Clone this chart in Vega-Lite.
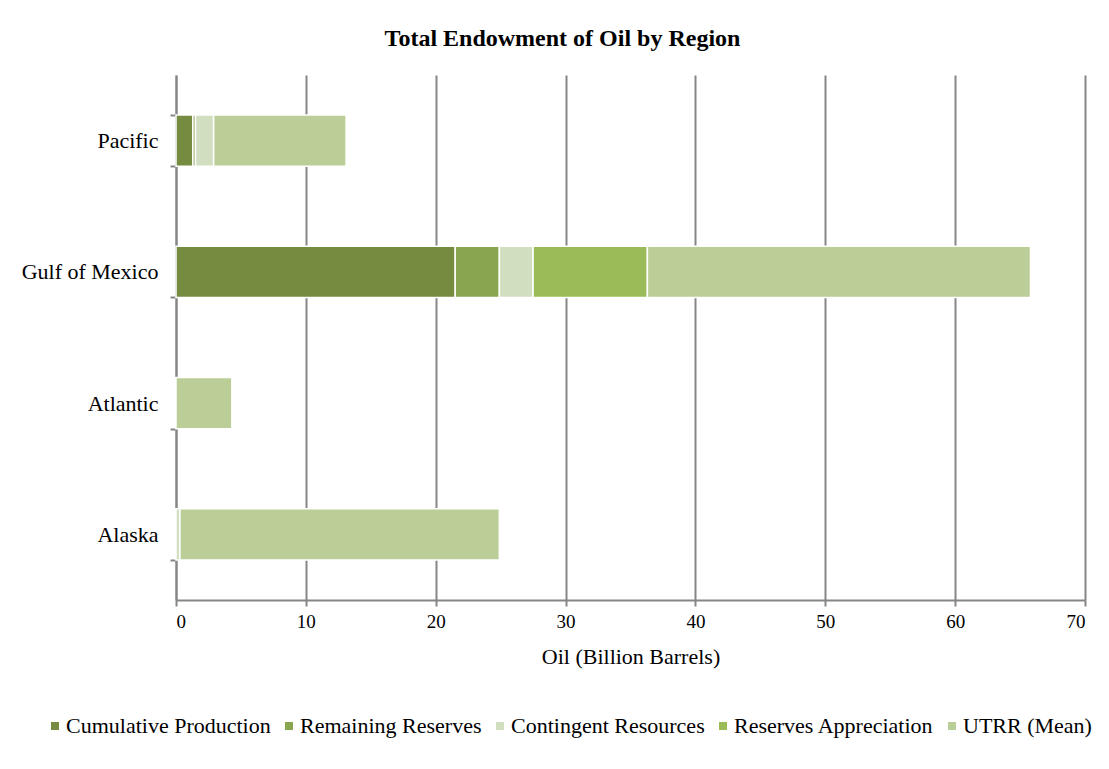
{
  "$schema": "https://vega.github.io/schema/vega-lite/v6.json",
  "autosize": {"type": "none"},
  "width": 909,
  "height": 525,
  "padding": {"left": 176, "top": 75, "right": 24, "bottom": 169},
  "background": "white",
  "title": {
    "text": "Total Endowment of Oil by Region",
    "font": "Liberation Serif",
    "fontSize": 24,
    "fontWeight": "bold",
    "color": "#000000",
    "anchor": "middle",
    "dx": -68,
    "offset": 13
  },
  "data": {
    "values": [
      {"region": "Pacific", "category": "Cumulative Production", "ord": 1, "value": 1.3},
      {"region": "Pacific", "category": "Remaining Reserves", "ord": 2, "value": 0.2},
      {"region": "Pacific", "category": "Contingent Resources", "ord": 3, "value": 1.4},
      {"region": "Pacific", "category": "Reserves Appreciation", "ord": 4, "value": 0.0},
      {"region": "Pacific", "category": "UTRR (Mean)", "ord": 5, "value": 10.2},
      {"region": "Gulf of Mexico", "category": "Cumulative Production", "ord": 1, "value": 21.5},
      {"region": "Gulf of Mexico", "category": "Remaining Reserves", "ord": 2, "value": 3.4},
      {"region": "Gulf of Mexico", "category": "Contingent Resources", "ord": 3, "value": 2.6},
      {"region": "Gulf of Mexico", "category": "Reserves Appreciation", "ord": 4, "value": 8.8},
      {"region": "Gulf of Mexico", "category": "UTRR (Mean)", "ord": 5, "value": 29.5},
      {"region": "Atlantic", "category": "Cumulative Production", "ord": 1, "value": 0.0},
      {"region": "Atlantic", "category": "Remaining Reserves", "ord": 2, "value": 0.0},
      {"region": "Atlantic", "category": "Contingent Resources", "ord": 3, "value": 0.0},
      {"region": "Atlantic", "category": "Reserves Appreciation", "ord": 4, "value": 0.0},
      {"region": "Atlantic", "category": "UTRR (Mean)", "ord": 5, "value": 4.3},
      {"region": "Alaska", "category": "Cumulative Production", "ord": 1, "value": 0.0},
      {"region": "Alaska", "category": "Remaining Reserves", "ord": 2, "value": 0.0},
      {"region": "Alaska", "category": "Contingent Resources", "ord": 3, "value": 0.3},
      {"region": "Alaska", "category": "Reserves Appreciation", "ord": 4, "value": 0.0},
      {"region": "Alaska", "category": "UTRR (Mean)", "ord": 5, "value": 24.6}
    ]
  },
  "mark": {"type": "bar", "stroke": "white", "strokeWidth": 1.5},
  "encoding": {
    "y": {
      "field": "region",
      "type": "nominal",
      "sort": ["Pacific", "Gulf of Mexico", "Atlantic", "Alaska"],
      "scale": {"paddingInner": 0.61, "paddingOuter": 0.305},
      "axis": {
        "title": null,
        "labelFont": "Liberation Serif",
        "labelFontSize": 22,
        "labelColor": "#000000",
        "labelPadding": 12,
        "tickBand": "extent",
        "tickSize": 6,
        "tickColor": "#868686",
        "tickWidth": 2,
        "domainColor": "#868686",
        "domainWidth": 2,
        "grid": false
      }
    },
    "x": {
      "field": "value",
      "type": "quantitative",
      "stack": "zero",
      "scale": {"domain": [0, 70], "nice": false},
      "axis": {
        "title": "Oil (Billion Barrels)",
        "titleFont": "Liberation Serif",
        "titleFontSize": 22,
        "titleFontWeight": "normal",
        "titleColor": "#000000",
        "titlePadding": 15,
        "values": [0, 10, 20, 30, 40, 50, 60, 70],
        "labelFont": "Liberation Serif",
        "labelFontSize": 19,
        "labelColor": "#000000",
        "labelPadding": 6,
        "tickSize": 6,
        "tickColor": "#868686",
        "tickWidth": 2,
        "domainColor": "#868686",
        "domainWidth": 2,
        "grid": true,
        "gridColor": "#868686",
        "gridWidth": 2
      }
    },
    "color": {
      "field": "category",
      "type": "nominal",
      "scale": {
        "domain": ["Cumulative Production", "Remaining Reserves", "Contingent Resources", "Reserves Appreciation", "UTRR (Mean)"],
        "range": ["#758C40", "#8AA550", "#D2DEC0", "#9BBB59", "#BBCE98"]
      },
      "legend": {
        "title": null,
        "orient": "none",
        "legendX": -132,
        "legendY": 640,
        "direction": "horizontal",
        "columns": 5,
        "columnPadding": 7,
        "symbolType": "square",
        "symbolSize": 64,
        "symbolStrokeWidth": 0,
        "labelFont": "Liberation Serif",
        "labelFontSize": 22,
        "labelColor": "#000000",
        "labelOffset": 0,
        "labelLimit": 400
      }
    },
    "order": {"field": "ord", "type": "quantitative"}
  },
  "config": {
    "view": {"stroke": null}
  }
}
